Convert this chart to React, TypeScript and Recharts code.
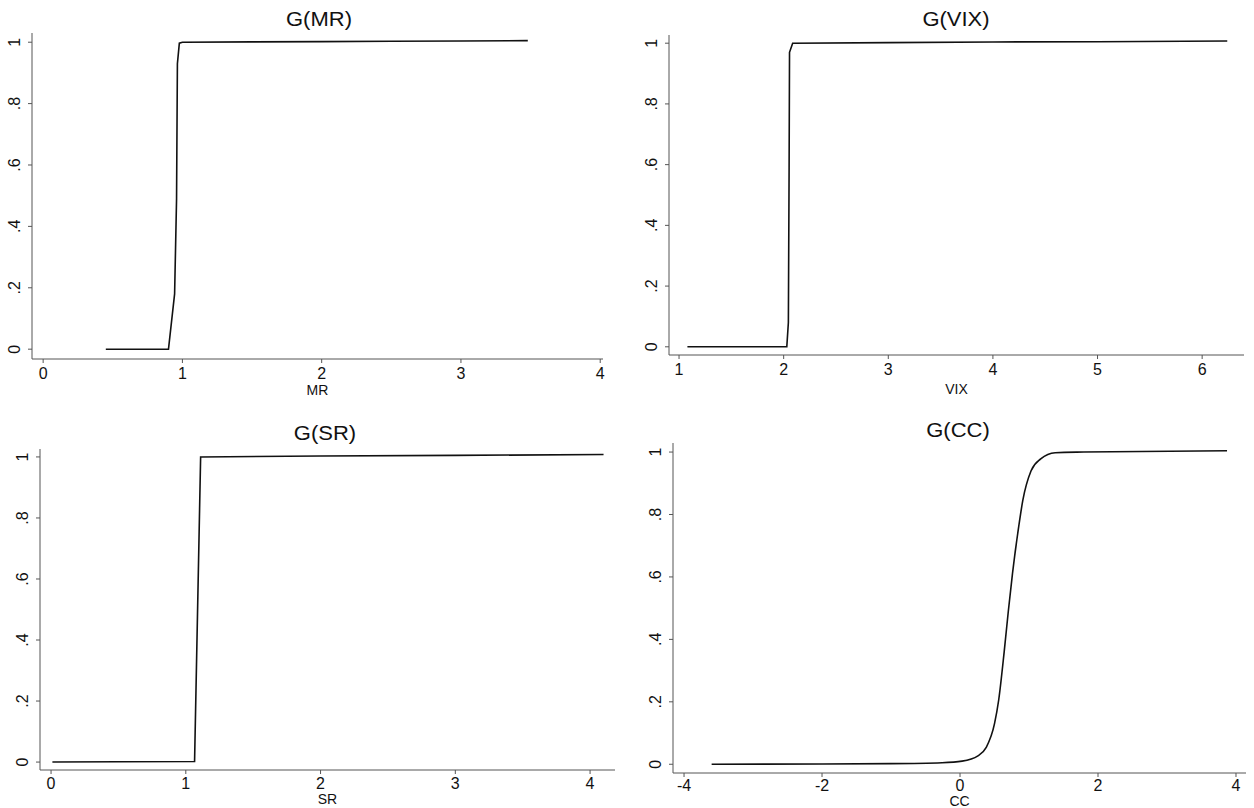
import React from 'react';
import { LineChart, Line, XAxis, YAxis } from 'recharts';

// values
const mrX = [0.45, 0.6, 0.75, 0.9, 0.944, 0.958, 0.964, 0.978, 1.0, 1.5, 2.0, 2.5, 3.0, 3.48];
const mrY = [0, 0, 0, 0, 0.18, 0.49, 0.93, 0.997, 1.0, 1.001, 1.002, 1.003, 1.004, 1.005];

const vixX = [1.08, 1.5, 2.03, 2.045, 2.052, 2.056, 2.086, 3, 4, 5, 6.24];
const vixY = [0, 0, 0, 0.08, 0.59, 0.97, 1.0, 1.002, 1.004, 1.005, 1.007];

const srX = [0.01, 0.5, 1.065, 1.11, 2, 3, 4.1];
const srY = [0, 0.001, 0.002, 1.0, 1.003, 1.005, 1.008];

const ccX = [-3.6, -2, -1, -0.26, 0.03, 0.26, 0.38, 0.5, 0.56, 0.64, 0.7, 0.76, 0.85, 0.91, 1.03, 1.17, 1.38, 1.79, 3.87];
const ccY = [0, 0.001, 0.002, 0.005, 0.01, 0.027, 0.054, 0.13, 0.205, 0.36, 0.49, 0.61, 0.76, 0.845, 0.94, 0.978, 0.998, 1.0, 1.004];

const yTicks = [0, 0.2, 0.4, 0.6, 0.8, 1];
const yTickLabels = ['0', '.2', '.4', '.6', '.8', '1'];

const mrTicks = [0, 1, 2, 3, 4];
const vixTicks = [1, 2, 3, 4, 5, 6];
const srTicks = [0, 1, 2, 3, 4];
const ccTicks = [-4, -2, 0, 2, 4];

const toRows = (xs: number[], ys: number[]) => xs.map((x, i) => ({ x, y: ys[i] }));

const FONT = '"Liberation Sans", Arial, sans-serif';
const AXIS = '#555';

const YTick = (props: any) => {
  const { x, y, payload } = props;
  const idx = yTicks.indexOf(payload.value);
  const cx = x - 11;
  return (
    <text
      x={cx}
      y={y}
      transform={`rotate(-90, ${cx}, ${y})`}
      textAnchor="middle"
      dominantBaseline="central"
      fontSize={16}
      fontFamily={FONT}
      fill="#111"
    >
      {idx >= 0 ? yTickLabels[idx] : payload.value}
    </text>
  );
};

type PanelProps = {
  title: string;
  label: string;
  rows: { x: number; y: number }[];
  xTicks: number[];
  xDomain: [number, number];
  yDomain: [number, number];
  left: number;
  top: number;
  height: number;
  margin: { top: number; right: number; bottom: number; left: number };
  xAxisHeight: number;
  tickGap: number;
  titleX: number;
  titleY: number;
  curve: 'linear' | 'monotone';
};

function Panel(p: PanelProps) {
  return (
    <>
      <div
        style={{
          position: 'absolute',
          left: p.titleX - 100,
          top: p.titleY - 12,
          width: 200,
          height: 24,
          lineHeight: '24px',
          textAlign: 'center',
          fontFamily: FONT,
          fontSize: 20,
          color: '#111',
          transform: 'scaleX(1.1)',
        }}
      >
        {p.title}
      </div>
      <div style={{ position: 'absolute', left: p.left, top: p.top }}>
        <LineChart width={627} height={p.height} data={p.rows} margin={p.margin}>
          <XAxis
            type="number"
            dataKey="x"
            domain={p.xDomain}
            ticks={p.xTicks}
            allowDataOverflow
            height={p.xAxisHeight}
            tickSize={4}
            tickMargin={p.tickGap}
            stroke={AXIS}
            tick={{ fontSize: 16, fontFamily: FONT, fill: '#111' }}
            label={{ value: p.label, position: 'insideBottom', offset: 0, fontSize: 14, fontFamily: FONT, fill: '#111' }}
          />
          <YAxis
            type="number"
            dataKey="y"
            domain={p.yDomain}
            ticks={yTicks}
            allowDataOverflow
            width={32}
            tickSize={4}
            tickMargin={2}
            stroke={AXIS}
            tick={<YTick />}
          />
          <Line
            type={p.curve}
            dataKey="y"
            stroke="#111"
            strokeWidth={1.6}
            dot={false}
            isAnimationActive={false}
          />
        </LineChart>
      </div>
    </>
  );
}

export default function App() {
  return (
    <div style={{ position: 'absolute', left: 0, top: 0, width: 1254, height: 808, background: '#fff' }}>
      <Panel
        title="G(MR)"
        label="MR"
        rows={toRows(mrX, mrY)}
        xTicks={mrTicks}
        xDomain={[-0.08, 4.02]}
        yDomain={[-0.032, 1.03]}
        left={0}
        top={0}
        height={400}
        margin={{ top: 33, right: 24, bottom: 5, left: 0 }}
        xAxisHeight={36}
        tickGap={5}
        titleX={319}
        titleY={19}
        curve="linear"
      />
      <Panel
        title="G(VIX)"
        label="VIX"
        rows={toRows(vixX, vixY)}
        xTicks={vixTicks}
        xDomain={[0.904, 6.4]}
        yDomain={[-0.027, 1.027]}
        left={627}
        top={0}
        height={400}
        margin={{ top: 35, right: 10, bottom: 6, left: 10 }}
        xAxisHeight={39}
        tickGap={5}
        titleX={956}
        titleY={19}
        curve="linear"
      />
      <Panel
        title="G(SR)"
        label="SR"
        rows={toRows(srX, srY)}
        xTicks={srTicks}
        xDomain={[-0.082, 4.185]}
        yDomain={[-0.026, 1.026]}
        left={0}
        top={400}
        height={408}
        margin={{ top: 49, right: 12, bottom: 4, left: 8 }}
        xAxisHeight={34}
        tickGap={4}
        titleX={325}
        titleY={433}
        curve="linear"
      />
      <Panel
        title="G(CC)"
        label="CC"
        rows={toRows(ccX, ccY)}
        xTicks={ccTicks}
        xDomain={[-4.16, 4.145]}
        yDomain={[-0.028, 1.029]}
        left={627}
        top={400}
        height={408}
        margin={{ top: 43, right: 8, bottom: 2, left: 14 }}
        xAxisHeight={33}
        tickGap={3}
        titleX={958}
        titleY={430}
        curve="monotone"
      />
    </div>
  );
}
